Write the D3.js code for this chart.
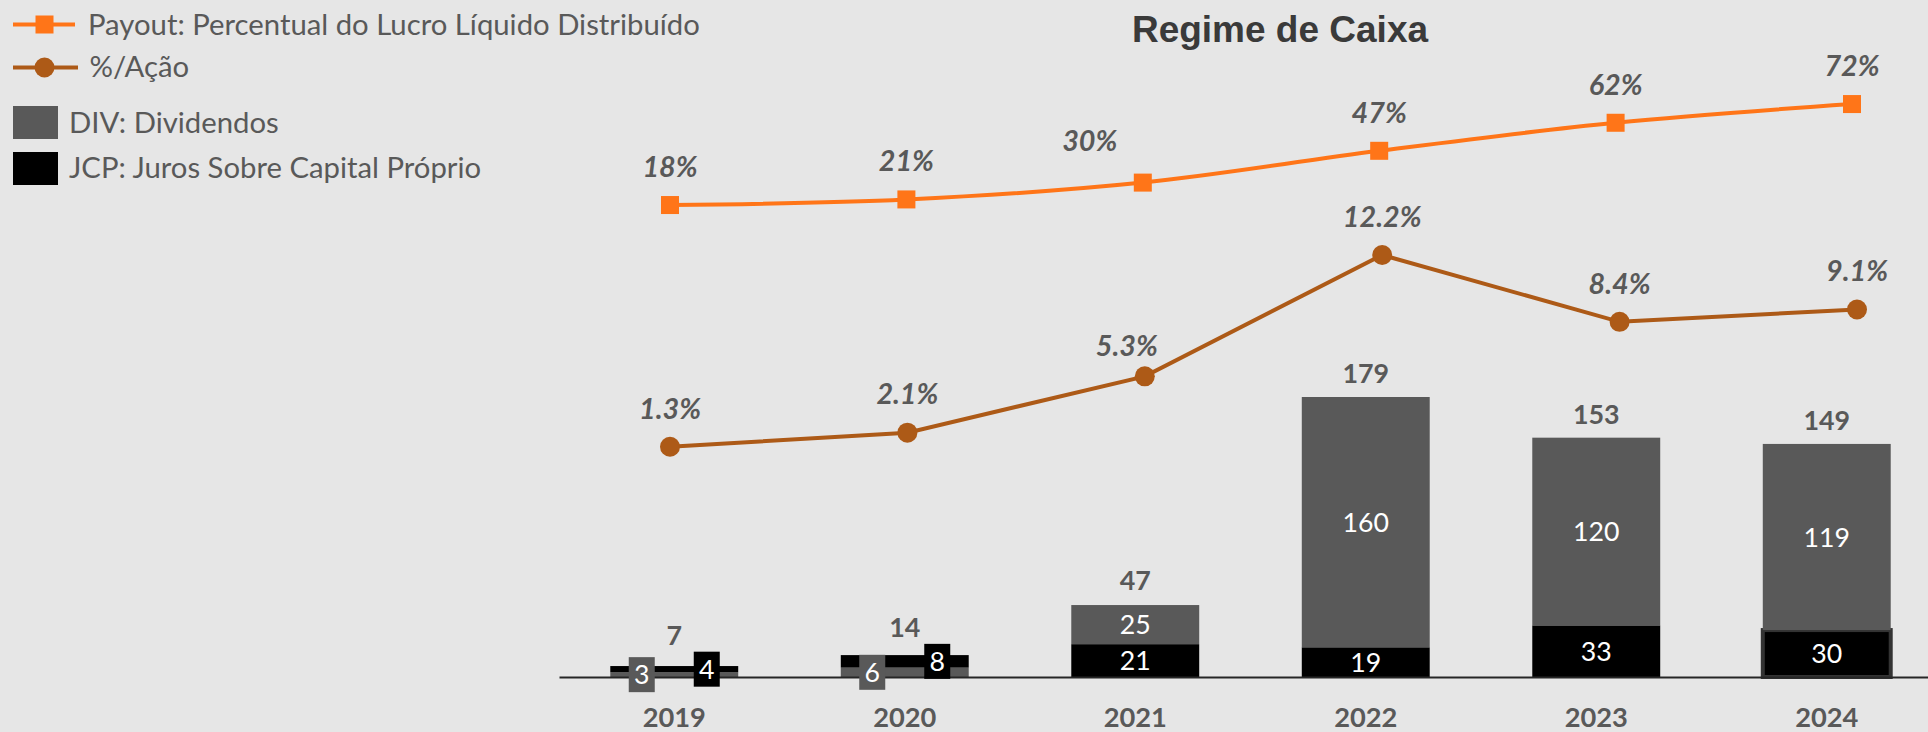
<!DOCTYPE html>
<html><head><meta charset="utf-8">
<script src="https://cdn.jsdelivr.net/npm/d3@7"></script>
<style>html,body{margin:0;padding:0;background:#e6e6e6;} svg{display:block;}</style>
</head><body>
<svg id="chart" width="1928" height="732"></svg>
<script>
// ---------- data ----------
const years = ["2019", "2020", "2021", "2022", "2023", "2024"];
const dividendos = [3, 6, 25, 160, 120, 119];
const jcp = [4, 8, 21, 19, 33, 30];
const totals = [7, 14, 47, 179, 153, 149];
const payout = [18, 21, 30, 47, 62, 72];
const porAcao = [1.3, 2.1, 5.3, 12.2, 8.4, 9.1];
const payoutLabels = ["18%", "21%", "30%", "47%", "62%", "72%"];
const porAcaoLabels = ["1.3%", "2.1%", "5.3%", "12.2%", "8.4%", "9.1%"];
const divOnBottom = [true, true, false, false, false, false];
const legendLabels = ["Payout: Percentual do Lucro Líquido Distribuído", "%/Ação", "DIV: Dividendos", "JCP: Juros Sobre Capital Próprio"];
const chartTitle = "Regime de Caixa";

// ---------- style ----------
const C = {
  bg: "#e6e6e6", div: "#595959", jcp: "#000000", payout: "#ff7518", acao: "#ad5a17",
  label: "#595959", title: "#3a3a3a", axis: "#262626"
};
const FONT = "Lato, 'Open Sans', sans-serif";
const canvas = document.createElement("canvas").getContext("2d");
function fit(text, weight, style, target) {
  canvas.font = `${style} ${weight} 100px Lato, 'Open Sans', sans-serif`;
  return 100 * target / canvas.measureText(text).width;
}
const legendSize = fit(legendLabels[0], "normal", "normal", 612);
const lineLabSize = (fit("18%", "bold", "italic", 55) + fit("12.2%", "bold", "italic", 79)) / 2;
const totalSize = fit("179", "bold", "normal", 46.7);
const innerSize = (fit("30", "normal", "normal", 31) + fit("160", "normal", "normal", 46.4)) / 2;
const yearSize = fit("2024", "bold", "normal", 63.3);
const CAP = 0.36; // half cap-height in em, for vertical centring

const svg = d3.select("#chart");
svg.append("rect").attr("width", 1928).attr("height", 732).attr("fill", C.bg);

// ---------- scales ----------
const x = d3.scaleBand().domain(years).range([559, 1942]).paddingInner(0.445).paddingOuter(0.2225);
const yBar = d3.scaleLinear().domain([0, 200]).range([677, 677 - 200 * 1.5642]);
const xPay = d3.scalePoint().domain(years).range([670, 1852]);
const xAcao = d3.scalePoint().domain(years).range([670, 1857]);
const yPay = d3.scaleLinear().domain([0, 100]).range([238.7, 51.7]);
const yAcao = d3.scaleLinear().domain([0, 14]).range([469.6, 223.3]);

// ---------- title ----------
svg.append("text").attr("x", 1280).attr("y", 41.7).attr("text-anchor", "middle")
  .attr("font-family", "'Liberation Sans', Arial, sans-serif").attr("font-weight", "bold")
  .attr("font-size", 37).attr("fill", C.title).text(chartTitle);

// ---------- bars ----------
const segs = [];
years.forEach((yr, i) => {
  const parts = divOnBottom[i]
    ? [{k: "div", v: dividendos[i]}, {k: "jcp", v: jcp[i]}]
    : [{k: "jcp", v: jcp[i]}, {k: "div", v: dividendos[i]}];
  let acc = 0;
  parts.forEach(p => { segs.push({year: yr, i, key: p.k, v: p.v, y0: acc, y1: acc + p.v}); acc += p.v; });
});
const gBars = svg.append("g");
gBars.selectAll("rect").data(segs).join("rect")
  .attr("x", d => x(d.year)).attr("width", x.bandwidth())
  .attr("y", d => yBar(d.y1)).attr("height", d => yBar(d.y0) - yBar(d.y1))
  .attr("fill", d => d.key === "div" ? C.div : C.jcp)
  .attr("stroke", d => (d.year === "2024" && d.key === "jcp") ? "#333333" : "none")
  .attr("stroke-width", 4);

// axis
const axis = d3.axisBottom(x).tickSize(0).tickSizeOuter(0).tickPadding(0);
const gAxis = svg.append("g").attr("transform", `translate(0,${yBar(0)})`).call(axis);
gAxis.select(".domain").attr("stroke", C.axis).attr("stroke-width", 2);
gAxis.selectAll(".tick text").attr("font-family", FONT).attr("font-weight", "bold")
  .attr("font-size", yearSize).attr("fill", C.label)
  .attr("dy", null).attr("y", 40 + CAP * yearSize);

// inner labels
const sideYears = new Set(["2019", "2020"]);
const gIn = svg.append("g");
segs.forEach(d => {
  const cx = x(d.year) + x.bandwidth() / 2;
  const cy = (yBar(d.y0) + yBar(d.y1)) / 2;
  if (sideYears.has(d.year)) {
    const lx = cx + (d.key === "div" ? -32.5 : 32.5);
    gIn.append("rect").attr("x", lx - 13).attr("y", cy - 17.5).attr("width", 26).attr("height", 35)
      .attr("fill", d.key === "div" ? C.div : C.jcp);
    gIn.append("text").attr("x", lx).attr("y", cy + CAP * innerSize).attr("text-anchor", "middle")
      .attr("font-family", FONT).attr("font-size", innerSize).attr("fill", "#ffffff").text(d.v);
  } else {
    gIn.append("text").attr("x", cx).attr("y", cy + CAP * innerSize).attr("text-anchor", "middle")
      .attr("font-family", FONT).attr("font-size", innerSize).attr("fill", "#ffffff").text(d.v);
  }
});

// totals
const totalLift = {"2019": 31, "2020": 28};
svg.append("g").selectAll("text").data(years).join("text")
  .attr("x", d => x(d) + x.bandwidth() / 2)
  .attr("y", (d, i) => yBar(totals[i]) - (totalLift[d] || 23.5) + CAP * totalSize)
  .attr("text-anchor", "middle").attr("font-family", FONT).attr("font-weight", "bold")
  .attr("font-size", totalSize).attr("fill", C.label).text((d, i) => totals[i]);

// ---------- lines ----------
const payLine = d3.line().x((d, i) => xPay(years[i])).y(d => yPay(d)).curve(d3.curveCatmullRom.alpha(0));
const acaoLine = d3.line().x((d, i) => xAcao(years[i])).y(d => yAcao(d));
svg.append("path").attr("d", payLine(payout)).attr("fill", "none").attr("stroke", C.payout).attr("stroke-width", 4);
svg.append("path").attr("d", acaoLine(porAcao)).attr("fill", "none").attr("stroke", C.acao).attr("stroke-width", 4);
svg.append("g").selectAll("rect").data(payout).join("rect")
  .attr("x", (d, i) => xPay(years[i]) - 9).attr("y", d => yPay(d) - 9)
  .attr("width", 18).attr("height", 18).attr("fill", C.payout);
svg.append("g").selectAll("circle").data(porAcao).join("circle")
  .attr("cx", (d, i) => xAcao(years[i])).attr("cy", d => yAcao(d)).attr("r", 10).attr("fill", C.acao);

const payOff = {"2021": [-53, -41.7]};
const acaoOff = {"2021": [-18, -30.7]};
function lineLabels(vals, labs, xs, ys, off) {
  svg.append("g").selectAll("text").data(vals).join("text")
    .attr("x", (d, i) => xs(years[i]) + (off[years[i]] ? off[years[i]][0] : 0))
    .attr("y", (d, i) => ys(d) + (off[years[i]] ? off[years[i]][1] : -38.5) + CAP * lineLabSize)
    .attr("text-anchor", "middle").attr("font-family", FONT).attr("font-weight", "bold")
    .attr("font-style", "italic").attr("font-size", lineLabSize).attr("fill", C.label)
    .text((d, i) => labs[i]);
}
lineLabels(payout, payoutLabels, xPay, yPay, payOff);
lineLabels(porAcao, porAcaoLabels, xAcao, yAcao, acaoOff);

// ---------- legend ----------
const gL = svg.append("g").attr("font-family", FONT).attr("font-size", legendSize).attr("fill", C.label);
gL.append("line").attr("x1", 13).attr("x2", 75).attr("y1", 24.5).attr("y2", 24.5).attr("stroke", C.payout).attr("stroke-width", 4);
gL.append("rect").attr("x", 35.5).attr("y", 15.5).attr("width", 18).attr("height", 18).attr("fill", C.payout);
gL.append("line").attr("x1", 13).attr("x2", 78).attr("y1", 67.5).attr("y2", 67.5).attr("stroke", C.acao).attr("stroke-width", 4);
gL.append("circle").attr("cx", 44.5).attr("cy", 67.5).attr("r", 10).attr("fill", C.acao);
gL.append("rect").attr("x", 13).attr("y", 106).attr("width", 45).attr("height", 33).attr("fill", C.div);
gL.append("rect").attr("x", 13).attr("y", 152).attr("width", 45).attr("height", 33).attr("fill", C.jcp);
const legPos = [[88, 35], [89.5, 77], [69, 133], [69, 178]];
legendLabels.forEach((t, i) => {
  gL.append("text").attr("x", legPos[i][0]).attr("y", legPos[i][1]).text(t);
});
</script>
</body></html>
